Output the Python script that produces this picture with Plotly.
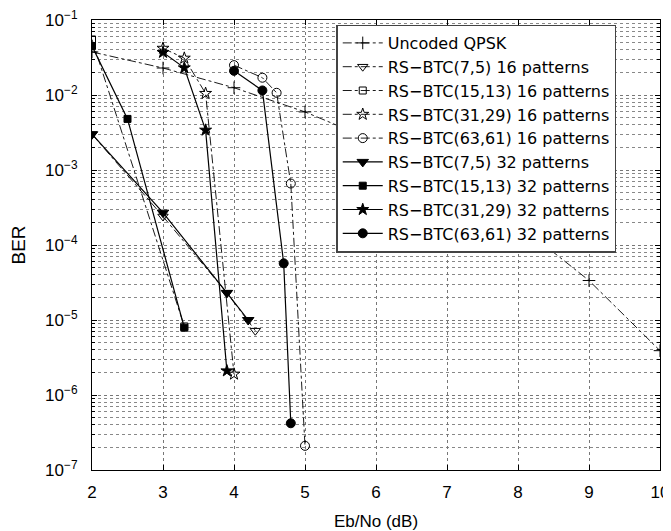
import plotly.graph_objects as go

# Data
qpsk_x = [2, 3, 4, 5, 6, 7, 8, 9, 10]
qpsk_y = [0.0375, 0.0229, 0.0125, 0.00595, 0.00239, 7.7e-4, 1.9e-4, 3.36e-5, 3.9e-6]

rs7_16_x = [2, 3, 3.9, 4.3]
rs7_16_y = [3.0e-3, 2.4e-4, 2.3e-5, 7.2e-6]
rs15_16_x = [2, 3.3]
rs15_16_y = [0.055, 8.2e-6]
rs31_16_x = [3, 3.3, 3.6, 4.0]
rs31_16_y = [0.042, 0.031, 0.0105, 1.9e-6]
rs63_16_x = [4, 4.4, 4.6, 4.8, 5.0]
rs63_16_y = [0.025, 0.017, 0.0107, 6.6e-4, 2.1e-7]

rs7_32_x = [2, 3, 3.9, 4.2]
rs7_32_y = [3.0e-3, 2.7e-4, 2.3e-5, 1.0e-5]
rs15_32_x = [2, 2.5, 3.3]
rs15_32_y = [0.045, 4.8e-3, 7.9e-6]
rs31_32_x = [3, 3.3, 3.6, 3.9]
rs31_32_y = [0.037, 0.023, 3.4e-3, 2.1e-6]
rs63_32_x = [4, 4.4, 4.7, 4.8]
rs63_32_y = [0.021, 0.0115, 5.7e-5, 4.2e-7]

names = ["Uncoded QPSK",
         "RS−BTC(7,5) 16 patterns", "RS−BTC(15,13) 16 patterns",
         "RS−BTC(31,29) 16 patterns", "RS−BTC(63,61) 16 patterns",
         "RS−BTC(7,5) 32 patterns", "RS−BTC(15,13) 32 patterns",
         "RS−BTC(31,29) 32 patterns", "RS−BTC(63,61) 32 patterns"]

series = [
    (qpsk_x, qpsk_y, "cross-thin-open", 9, "dashdot", 0.9),
    (rs7_16_x, rs7_16_y, "triangle-down-open", 9, "dashdot", 0.9),
    (rs15_16_x, rs15_16_y, "square-open", 7, "dashdot", 0.9),
    (rs31_16_x, rs31_16_y, "star-open", 9, "dashdot", 0.9),
    (rs63_16_x, rs63_16_y, "circle-open", 9, "dashdot", 0.9),
    (rs7_32_x, rs7_32_y, "triangle-down", 10, "solid", 1.2),
    (rs15_32_x, rs15_32_y, "square", 7, "solid", 1.2),
    (rs31_32_x, rs31_32_y, "star", 9, "solid", 1.2),
    (rs63_32_x, rs63_32_y, "circle", 9, "solid", 1.2),
]

fig = go.Figure()
for name, (x, y, sym, size, dash, w) in zip(names, series):
    fig.add_trace(go.Scatter(
        x=x, y=y, name=name, mode="lines+markers",
        line=dict(color="black", width=w, dash=dash),
        marker=dict(symbol=sym, size=size, color="black",
                    line=dict(color="black", width=1)),
    ))

decades = [1e-7, 1e-6, 1e-5, 1e-4, 1e-3, 1e-2, 1e-1]
dec_text = ["10<sup>−7</sup>", "10<sup>−6</sup>", "10<sup>−5</sup>", "10<sup>−4</sup>",
            "10<sup>−3</sup>", "10<sup>−2</sup>", "10<sup>−1</sup>"]

# the page body adds an 8px margin, so the figure is 8px smaller on each axis
fig.update_layout(
    width=663, height=523,
    margin=dict(l=84, r=11, t=12, b=61),
    paper_bgcolor="white", plot_bgcolor="white",
    font=dict(family="Liberation Sans, Arial, sans-serif", color="black", size=16),
    showlegend=True,
    legend=dict(x=0.43, y=0.99, xanchor="left", yanchor="top",
                bgcolor="white", bordercolor="#444444", borderwidth=1.5,
                font=dict(size=16, family="DejaVu Sans, sans-serif"),
                tracegroupgap=0, itemwidth=40),
    xaxis=dict(range=[2, 10], dtick=1, showline=True, linecolor="black", linewidth=1,
               mirror="ticks", ticks="inside", ticklen=5, tickcolor="black",
               showgrid=True, gridcolor="#777777", griddash="dot", gridwidth=1,
               zeroline=False, automargin=False, ticklabelstandoff=7,
               ticklabeloverflow="allow",
               tickfont=dict(size=17),
               title=dict(text="Eb/No (dB)", font=dict(size=17), standoff=20)),
    yaxis=dict(type="log", range=[-7, -1], tickvals=decades, ticktext=dec_text,
               showline=True, linecolor="black", linewidth=1, mirror="ticks",
               ticks="inside", ticklen=5, tickcolor="black",
               showgrid=True, gridcolor="#777777", griddash="dot", gridwidth=1,
               minor=dict(dtick="D1", showgrid=True, gridcolor="#888888", griddash="dot",
                          ticks="inside", ticklen=3, tickcolor="black"),
               zeroline=False, automargin=False, ticklabelstandoff=10,
               ticklabeloverflow="allow",
               tickfont=dict(size=17),
               title=dict(text="BER", font=dict(size=19), standoff=14)),
)

fig.write_html("out.html")
